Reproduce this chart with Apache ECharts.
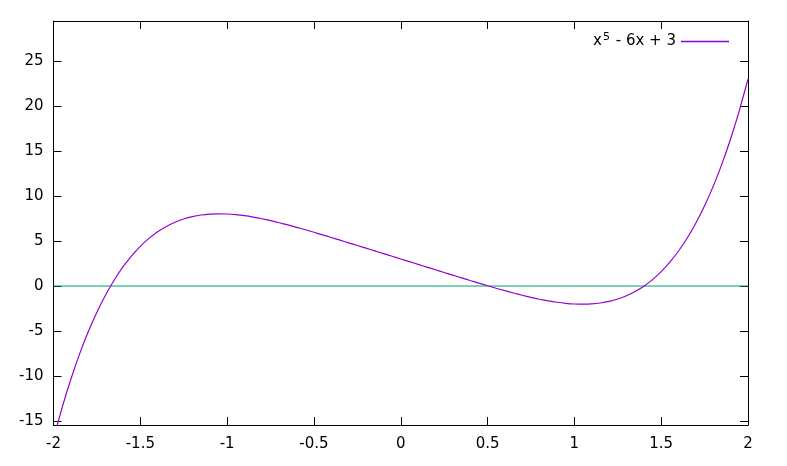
<!DOCTYPE html>
<html>
<head>
<meta charset="utf-8">
<script src="https://cdn.jsdelivr.net/npm/echarts@6/dist/echarts.min.js"></script>
<style>
  html, body { margin: 0; padding: 0; background: #fff; }
  #chart { width: 787px; height: 466px; }
</style>
</head>
<body>
<div id="chart"></div>
<script>
// values, step 0.05
var xValues = [-2.0, -1.95, -1.9, -1.85, -1.8, -1.75, -1.7, -1.65, -1.6, -1.55,
               -1.5, -1.45, -1.4, -1.35, -1.3, -1.25, -1.2, -1.15, -1.1, -1.05,
               -1.0, -0.95, -0.9, -0.85, -0.8, -0.75, -0.7, -0.65, -0.6, -0.55,
               -0.5, -0.45, -0.4, -0.35, -0.3, -0.25, -0.2, -0.15, -0.1, -0.05,
               0.0, 0.05, 0.1, 0.15, 0.2, 0.25, 0.3, 0.35, 0.4, 0.45,
               0.5, 0.55, 0.6, 0.65, 0.7, 0.75, 0.8, 0.85, 0.9, 0.95,
               1.0, 1.05, 1.1, 1.15, 1.2, 1.25, 1.3, 1.35, 1.4, 1.45,
               1.5, 1.55, 1.6, 1.65, 1.7, 1.75, 1.8, 1.85, 1.9, 1.95, 2.0];
var curveValues = [-17.0, -13.495, -10.361, -7.570, -5.096, -2.913, -0.999, 0.670, 2.114, 3.353,
                   4.406, 5.290, 6.022, 6.616, 7.087, 7.448, 7.712, 7.889, 7.989, 8.024,
                   8.0, 7.926, 7.810, 7.656, 7.472, 7.263, 7.032, 6.784, 6.522, 6.250,
                   5.969, 5.682, 5.390, 5.095, 4.798, 4.499, 4.200, 3.900, 3.600, 3.300,
                   3.0, 2.700, 2.400, 2.100, 1.800, 1.501, 1.202, 0.905, 0.610, 0.318,
                   0.031, -0.250, -0.522, -0.784, -1.032, -1.263, -1.472, -1.656, -1.810, -1.926,
                   -2.0, -2.024, -1.989, -1.889, -1.712, -1.448, -1.087, -0.616, -0.022, 0.710,
                   1.594, 2.647, 3.886, 5.330, 6.999, 8.913, 11.096, 13.570, 16.361, 19.495, 23.0];
var zeroLine = [[-2, 0], [2, 0]];
var yTicks = [-15, -10, -5, 0, 5, 10, 15, 20, 25];
var curveName = 'x^5 - 6x + 3';

var curveData = [];
for (var i = 0; i < xValues.length; i++) {
  curveData.push([xValues[i], curveValues[i]]);
}

var chart = echarts.init(document.getElementById('chart'));

var font = 'DejaVu Sans';
var lineCol = '#000000';
var fs = 15;

function tickAxis(pos, isX, showLabel) {
  var ax = {
    type: 'value',
    position: pos,
    axisLine: { show: true, onZero: false, lineStyle: { color: lineCol, width: 1 } },
    axisTick: { show: true, inside: true, length: 8, lineStyle: { color: lineCol } },
    splitLine: { show: false },
    axisLabel: {
      show: showLabel,
      color: '#000',
      fontFamily: font,
      fontSize: fs,
      margin: isX ? 12 : 10
    }
  };
  if (isX) {
    ax.min = -2;
    ax.max = 2;
    ax.interval = 0.5;
  } else {
    ax.min = -15.45;
    ax.max = 29.45;
    ax.axisLabel.customValues = yTicks;
    ax.axisTick.customValues = yTicks;
  }
  return ax;
}

chart.setOption({
  animation: false,
  backgroundColor: '#ffffff',
  grid: { left: 53.5, right: 39, top: 21, bottom: 41, containLabel: false },
  legend: {
    data: [curveName],
    right: 58,
    top: 32,
    padding: 0,
    align: 'right',
    icon: 'rect',
    itemWidth: 48,
    itemHeight: 1.3,
    itemGap: 9,
    formatter: function () {
      return '{n|x}{s|5}{n| - 6x + 3}';
    },
    textStyle: {
      rich: {
        n: { fontFamily: font, fontSize: fs, color: '#000' },
        s: { fontFamily: font, fontSize: 11, color: '#000', verticalAlign: 'top', padding: [0, 1, 8, 1] }
      }
    }
  },
  xAxis: [tickAxis('bottom', true, true), tickAxis('top', true, false)],
  yAxis: [tickAxis('left', false, true), tickAxis('right', false, false)],
  series: [
    {
      name: curveName,
      type: 'line',
      data: curveData,
      smooth: 0.2,
      symbol: 'none',
      clip: true,
      lineStyle: { color: '#9400d3', width: 1.2 },
      itemStyle: { color: '#9400d3' },
      z: 3
    },
    {
      name: 'zero',
      type: 'line',
      data: zeroLine,
      symbol: 'none',
      lineStyle: { color: '#009e73', width: 1.2 },
      z: 2
    }
  ]
});
</script>
</body>
</html>
